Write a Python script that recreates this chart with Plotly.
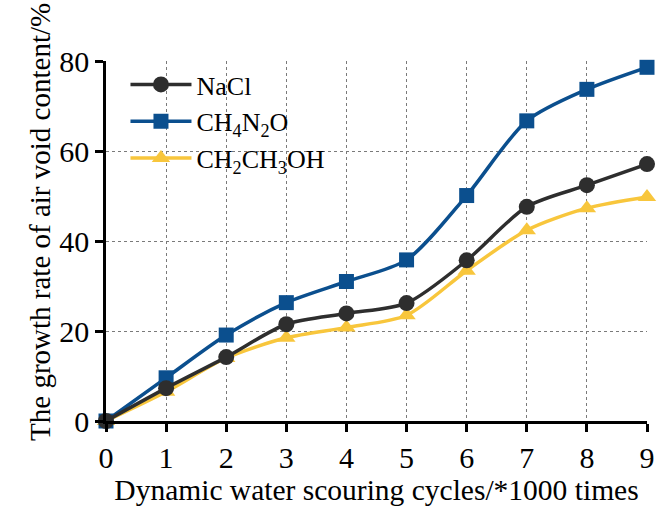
import plotly.graph_objects as go

# Scouring cycles (x1000) and air-void growth rate (%) for each solution
cycles = [0, 1, 2, 3, 4, 5, 6, 7, 8, 9]
nacl = [0, 7.3, 14.2, 21.5, 23.9, 26.2, 35.7, 47.6, 52.4, 57.1]
urea = [0, 9.6, 19.1, 26.3, 31.0, 35.8, 50.1, 66.7, 73.7, 78.6]
ethanol = [0, 6.5, 14.0, 18.5, 20.8, 23.5, 33.4, 42.4, 47.3, 49.8]

series_names = ["NaCl", "CH<sub>4</sub>N<sub>2</sub>O", "CH<sub>2</sub>CH<sub>3</sub>OH"]
x_ticks = list(range(0, 10))
y_ticks = [0, 20, 40, 60, 80]

FONT = "Liberation Serif, Times New Roman, serif"

fig = go.Figure()

# draw yellow first, blue next, dark gray on top
fig.add_trace(go.Scatter(
    x=cycles, y=ethanol, name=series_names[2], mode="lines+markers",
    line=dict(color="#f8c63c", width=3.5, shape="spline", smoothing=0.8),
    marker=dict(symbol="triangle-up", size=16, color="#f8c63c"),
    legendrank=3, cliponaxis=False,
))
fig.add_trace(go.Scatter(
    x=cycles, y=urea, name=series_names[1], mode="lines+markers",
    line=dict(color="#0b4f8e", width=3.5, shape="spline", smoothing=0.8),
    marker=dict(symbol="square", size=15, color="#0b4f8e"),
    legendrank=2, cliponaxis=False,
))
fig.add_trace(go.Scatter(
    x=cycles, y=nacl, name=series_names[0], mode="lines+markers",
    line=dict(color="#2e2e2e", width=3.5, shape="spline", smoothing=0.8),
    marker=dict(symbol="circle", size=16, color="#2e2e2e"),
    legendrank=1, cliponaxis=False,
))

axis_common = dict(
    showline=True, linecolor="black", linewidth=2.5,
    ticks="outside", ticklen=8, tickwidth=2.5, tickcolor="black",
    showgrid=True, gridcolor="#7a7a7a", gridwidth=1, griddash="dot",
    zeroline=False, mirror=False,
    tickfont=dict(family=FONT, size=30, color="black"),
)

fig.update_xaxes(
    range=[0, 9], tickvals=x_ticks, ticktext=[str(t) for t in x_ticks],
    title=dict(text="Dynamic water scouring cycles/*1000 times",
               font=dict(family=FONT, size=29.5, color="black"), standoff=0),
    **axis_common,
)
fig.update_yaxes(
    range=[0, 80], tickvals=y_ticks, ticktext=[str(t) for t in y_ticks],
    **axis_common,
)

# vertical axis title, set slightly above the plot's middle
fig.add_annotation(
    text="The growth rate of air void content/%",
    xref="paper", yref="paper", x=-0.122, y=0.553,
    xanchor="center", yanchor="middle", textangle=-90, showarrow=False,
    font=dict(family=FONT, size=29, color="black"),
)

fig.update_layout(
    width=666, height=509,
    margin=dict(l=106, r=19, t=61, b=88),
    paper_bgcolor="white", plot_bgcolor="white",
    showlegend=True,
    legend=dict(
        x=0.036, y=1.0, xanchor="left", yanchor="top",
        bgcolor="rgba(0,0,0,0)",
        font=dict(family=FONT, size=26, color="black"),
        itemwidth=61, tracegroupgap=0,
    ),
)

fig.write_html("out.html")
